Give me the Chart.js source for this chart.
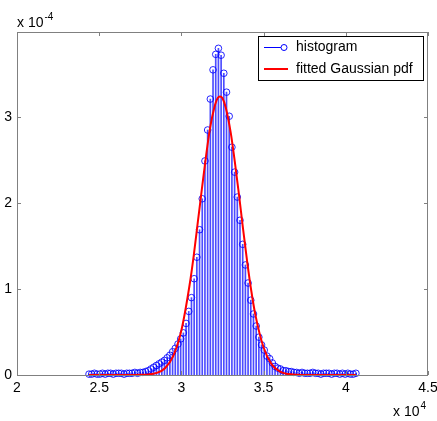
<!DOCTYPE html>
<html lang="en">

<head>
    <meta charset="UTF-8">
    <script src="https://cdn.jsdelivr.net/npm/chart.js"></script>
    <title>Histogram and fitted Gaussian</title>
    <style>
        body { margin: 0; background: #fff; }
        canvas { display: block; }
    </style>
</head>

<body>
    <canvas id="histChart" width="437" height="421"></canvas>
</body>

</html>

<script>

    // bin centres of the histogram
    const binCenters = [
        24380, 24544, 24708, 24872, 25036, 25200, 25364, 25528, 25692, 25856,
        26020, 26184, 26348, 26512, 26676, 26840, 27004, 27168, 27332, 27496,
        27660, 27824, 27988, 28152, 28316, 28480, 28644, 28808, 28972, 29136,
        29300, 29464, 29628, 29792, 29956, 30120, 30284, 30448, 30612, 30776,
        30940, 31104, 31268, 31432, 31596, 31760, 31924, 32088, 32252, 32416,
        32580, 32744, 32908, 33072, 33236, 33400, 33564, 33728, 33892, 34056,
        34220, 34384, 34548, 34712, 34876, 35040, 35204, 35368, 35532, 35696,
        35860, 36024, 36188, 36352, 36516, 36680, 36844, 37008, 37172, 37336,
        37500, 37664, 37828, 37992, 38156, 38320, 38484, 38648, 38812, 38976,
        39140, 39304, 39468, 39632, 39796, 39960, 40124, 40288, 40452, 40616
    ];

    // histogram density, in units of 1e-4
    const histDensity = [
        0.01, 0.01, 0.02, 0.01, 0.01, 0.02, 0.01, 0.02, 0.02, 0.01,
        0.02, 0.02, 0.02, 0.01, 0.02, 0.02, 0.02, 0.03, 0.02, 0.03,
        0.03, 0.04, 0.05, 0.07, 0.09, 0.11, 0.13, 0.15, 0.17, 0.20,
        0.23, 0.27, 0.31, 0.36, 0.42, 0.49, 0.60, 0.74, 0.90, 1.12,
        1.37, 1.69, 2.05, 2.49, 2.85, 3.21, 3.55, 3.73, 3.80, 3.72,
        3.51, 3.29, 3.01, 2.65, 2.36, 2.07, 1.80, 1.52, 1.28, 1.07,
        0.87, 0.71, 0.57, 0.44, 0.35, 0.29, 0.22, 0.19, 0.14, 0.10,
        0.08, 0.07, 0.05, 0.05, 0.04, 0.04, 0.03, 0.03, 0.02, 0.03,
        0.02, 0.02, 0.02, 0.03, 0.02, 0.02, 0.01, 0.02, 0.02, 0.02,
        0.01, 0.02, 0.02, 0.01, 0.02, 0.01, 0.02, 0.01, 0.01, 0.02
    ];

    // fitted Gaussian pdf (units of 1e-4)
    const fitX = [
        24380, 26000, 27000, 27500, 28000, 28500, 29000, 29500, 30000, 30500,
        30750, 31000, 31250, 31500, 31750, 32000, 32200, 32350, 32500, 32700,
        33000, 33250, 33500, 33750, 34000, 34250, 34500, 35000, 35500, 36000,
        36500, 37000, 38000, 40616
    ];
    const fitY = [
        0, 0, 0.001, 0.002, 0.006, 0.024, 0.079, 0.22, 0.52, 1.05,
        1.39, 1.78, 2.17, 2.55, 2.88, 3.11, 3.22, 3.24, 3.22, 3.11,
        2.82, 2.48, 2.10, 1.70, 1.32, 0.98, 0.70, 0.32, 0.12, 0.04,
        0.011, 0.003, 0, 0
    ];

    const xTicks = [20000, 25000, 30000, 35000, 40000, 45000];
    const yTicks = [0, 1, 2, 3];

    const seriesNames = ["histogram", "fitted Gaussian pdf"];

    const FONT = "Liberation Sans, Arial, sans-serif";
    const AXIS_GRAY = "#808080";

    const histPoints = binCenters.map((x, i) => ({ x: x, y: histDensity[i] }));
    const fitPoints = fitX.map((x, i) => ({ x: x, y: fitY[i] }));

    // box round the axes, inward ticks, exponent labels and legend
    const matlabFrame = {
        id: "matlabFrame",
        afterDatasetsDraw(chart) {
            const c = chart.ctx;
            const a = chart.chartArea;
            const xs = chart.scales.x;
            const ys = chart.scales.y;

            c.save();
            c.strokeStyle = AXIS_GRAY;
            c.lineWidth = 1;
            c.strokeRect(Math.round(a.left) + 0.5, Math.round(a.top) + 0.5,
                Math.round(a.right - a.left) - 1, Math.round(a.bottom - a.top));

            c.beginPath();
            xTicks.forEach(v => {
                const px = Math.round(xs.getPixelForValue(v)) + 0.5;
                c.moveTo(px, a.bottom);
                c.lineTo(px, a.bottom - 4);
                c.moveTo(px, a.top);
                c.lineTo(px, a.top + 4);
            });
            yTicks.forEach(v => {
                const py = Math.round(ys.getPixelForValue(v)) + 0.5;
                c.moveTo(a.left, py);
                c.lineTo(a.left + 4, py);
                c.moveTo(a.right, py);
                c.lineTo(a.right - 4, py);
            });
            c.stroke();

            // exponent labels
            c.fillStyle = "#000";
            c.textBaseline = "alphabetic";
            c.textAlign = "left";
            c.font = "14px " + FONT;
            c.fillText("x 10", 17, 27);
            let w = c.measureText("x 10").width;
            c.font = "10px " + FONT;
            c.fillText("-4", 17 + w + 1, 20);

            c.font = "14px " + FONT;
            c.fillText("x 10", 393, 416);
            w = c.measureText("x 10").width;
            c.font = "10px " + FONT;
            c.fillText("4", 393 + w + 1, 409);

            // legend
            c.fillStyle = "#fff";
            c.fillRect(258.5, 36.5, 165, 44);
            c.strokeStyle = "#000";
            c.strokeRect(258.5, 36.5, 165, 44);

            c.strokeStyle = "#0000ff";
            c.lineWidth = 1;
            c.beginPath();
            c.moveTo(264, 47.5);
            c.lineTo(281, 47.5);
            c.stroke();
            c.beginPath();
            c.arc(284, 47.5, 3, 0, Math.PI * 2);
            c.stroke();

            c.strokeStyle = "#ff0000";
            c.lineWidth = 2;
            c.beginPath();
            c.moveTo(264, 69);
            c.lineTo(288, 69);
            c.stroke();

            c.fillStyle = "#000";
            c.font = "14px " + FONT;
            c.textBaseline = "middle";
            c.fillText(seriesNames[0], 296, 47);
            c.fillText(seriesNames[1], 296, 69);
            c.restore();
        }
    };

    const ctx = document.getElementById("histChart").getContext("2d");

    new Chart(ctx, {
        type: "bar",
        data: {
            datasets: [
                {
                    type: "line",
                    label: seriesNames[1],
                    data: fitPoints,
                    borderColor: "#ff0000",
                    borderWidth: 2,
                    pointRadius: 0,
                    fill: false,
                    cubicInterpolationMode: "monotone",
                    order: 0
                },
                {
                    type: "scatter",
                    label: seriesNames[0],
                    data: histPoints,
                    borderColor: "rgba(0,0,255,0.85)",
                    backgroundColor: "rgba(0,0,0,0)",
                    borderWidth: 1,
                    pointRadius: 3.3,
                    pointHoverRadius: 3.3,
                    clip: false,
                    order: 1
                },
                {
                    type: "bar",
                    label: "stems",
                    data: histPoints,
                    backgroundColor: "rgba(0,0,255,0.7)",
                    barThickness: 1,
                    order: 2
                }
            ]
        },
        options: {
            responsive: false,
            animation: false,
            events: [],
            layout: {
                padding: { left: 0, top: 32, right: 9, bottom: 0 }
            },
            scales: {
                x: {
                    type: "linear",
                    min: 20000,
                    max: 45000,
                    offset: false,
                    grid: { display: false, drawTicks: false },
                    border: { display: false },
                    ticks: {
                        stepSize: 5000,
                        padding: 5,
                        color: "#000",
                        font: { family: FONT, size: 14 },
                        maxRotation: 0,
                        autoSkip: false,
                        callback: v => String(Math.round(v / 1000) / 10)
                    },
                    afterFit: s => {
                        s.height = 46;
                        s.paddingLeft = 0;
                        s.paddingRight = 0;
                    }
                },
                y: {
                    type: "linear",
                    min: 0,
                    max: 3.99,
                    grid: { display: false, drawTicks: false },
                    border: { display: false },
                    ticks: {
                        stepSize: 1,
                        includeBounds: false,
                        padding: 5,
                        color: "#000",
                        font: { family: FONT, size: 14 },
                        callback: v => String(Math.round(v))
                    },
                    afterFit: s => {
                        s.width = 17;
                        s.paddingTop = 0;
                        s.paddingBottom = 0;
                    }
                }
            },
            plugins: {
                legend: { display: false },
                tooltip: { enabled: false }
            }
        },
        plugins: [matlabFrame]
    });
</script>
